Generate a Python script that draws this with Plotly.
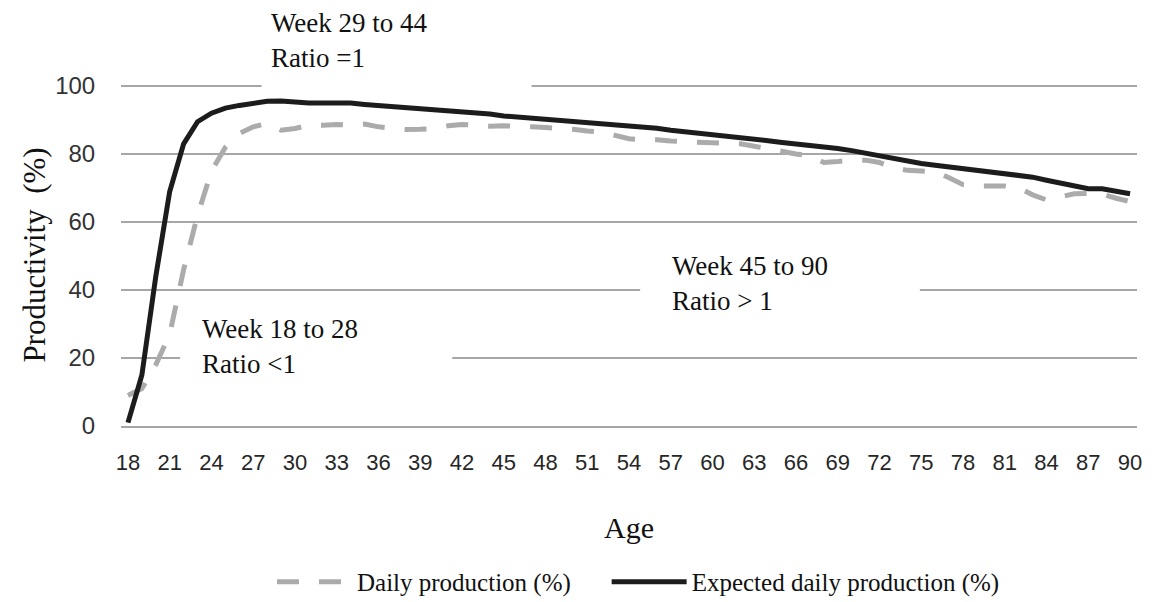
import plotly.graph_objects as go

weeks = list(range(18, 91))

expected = [1, 15, 44, 69, 83, 89.5, 92, 93.5, 94.3, 95, 95.5, 95.6, 95.2, 95, 95, 95,
            95, 94.6, 94.3, 94, 93.6, 93.4, 93.2, 92.8, 92.4, 92, 91.8, 91.2, 90.9, 90.5,
            90.2, 89.9, 89.6, 89.2, 88.8, 88.6, 88.3, 88, 87.6, 87, 86.6, 86.2, 85.6, 85.2,
            84.8, 84.3, 83.9, 83.4, 83, 82.5, 82.1, 81.6, 81, 80.2, 79.4, 78.8, 77.8, 77.2,
            76.7, 76.2, 75.6, 74.9, 74.5, 74, 73.6, 73.2, 72.3, 71.5, 70.6, 69.8, 69.8,
            69.2, 68.3]

daily = [9, 11, 18, 27, 46, 62, 75, 82, 86, 88, 89, 87, 87.5, 88.5, 88.5, 88.7, 88.5,
         88.8, 88, 87.5, 87.2, 87.3, 87.5, 88.3, 88.7, 88.5, 88.2, 88.3, 88.3, 88, 87.8,
         87.7, 87.3, 86.8, 86.5, 85.5, 84.5, 84.2, 84.2, 83.8, 83.6, 83.4, 83.2, 83.1, 83,
         82.3, 81.5, 80.8, 80, 79.5, 77.5, 77.8, 78.2, 78.2, 77.5, 76, 75.2, 75, 74.8, 73,
         71, 70.6, 70.6, 70.6, 70, 68, 66.5, 67.5, 68.3, 68.4, 68.2, 67, 66]

x_ticks = list(range(18, 91, 3))
y_ticks = [0, 20, 40, 60, 80, 100]

# (text, x in weeks, y in %)
notes = [
    ("Week 29 to 44<br>Ratio =1", 28.1, 113.5),
    ("Week 18 to 28<br>Ratio &lt;1", 23.15, 23.4),
    ("Week 45 to 90<br>Ratio &gt; 1", 56.95, 42.0),
]
# gaps in the gridlines behind the text boxes: (x0, x1, gridline value)
gaps = [(27.6, 47.0, 100), (21.75, 41.3, 20), (54.8, 74.9, 40)]

SERIF = "Liberation Serif, Times New Roman, serif"
SANS = "Liberation Sans, Arial, sans-serif"
GRID = "#a6a6a6"
Y_MAX = 100.6

fig = go.Figure()
fig.add_trace(go.Scatter(
    x=weeks, y=daily, mode="lines", name="Daily production (%)", legend="legend",
    line=dict(color="#ababab", width=5, dash="22px,20px"),
))
fig.add_trace(go.Scatter(
    x=weeks, y=expected, mode="lines", name="Expected daily production (%)",
    legend="legend2", line=dict(color="#1c1c1c", width=5),
))

for x0, x1, g in gaps:
    fig.add_shape(type="rect", xref="x", yref="y", x0=x0, x1=x1, y0=g - 1.2,
                  y1=min(g + 1.2, Y_MAX), fillcolor="white", line=dict(width=0),
                  layer="above")

for txt, xv, yv in notes:
    # convert the % value to a paper fraction so labels above the range still show
    fig.add_annotation(text=txt, x=xv, y=yv / Y_MAX, xref="x", yref="paper",
                       xanchor="left", yanchor="middle", align="left", showarrow=False,
                       font=dict(family=SERIF, size=27, color="#111111"))

legend_style = dict(orientation="h", xanchor="left", y=-0.456, yanchor="middle",
                    font=dict(family=SERIF, size=25, color="#111111"), itemwidth=75,
                    bgcolor="rgba(0,0,0,0)")

fig.update_layout(
    width=1152, height=602,
    margin=dict(l=121, r=15, t=84, b=176, autoexpand=False),
    plot_bgcolor="white", paper_bgcolor="white",
    showlegend=True,
    legend=dict(x=0.1486, **legend_style),
    legend2=dict(x=0.478, **legend_style),
)
fig.update_xaxes(
    range=[17.5, 90.5], tickmode="array", tickvals=x_ticks,
    ticktext=[str(v) for v in x_ticks], automargin=False,
    showgrid=False, zeroline=False, showline=True, linecolor=GRID, linewidth=1.5,
    ticks="outside", ticklen=16, tickcolor="rgba(0,0,0,0)",
    tickfont=dict(family=SANS, size=22, color="#262626"),
    title=dict(text="Age", font=dict(family=SERIF, size=30, color="#111111"), standoff=43),
)
fig.update_yaxes(
    range=[0, Y_MAX], tickmode="array", tickvals=y_ticks, automargin=False,
    showgrid=True, gridcolor=GRID, gridwidth=1.5, zeroline=False,
    ticks="outside", ticklen=20, tickcolor="rgba(0,0,0,0)",
    tickfont=dict(family=SANS, size=24, color="#333333"),
    title=dict(text="Productivity  (%)", font=dict(family=SERIF, size=31, color="#111111"),
               standoff=0),
)

fig.write_html("out.html", config={"displayModeBar": False},
               post_script="document.body.style.margin='0px';")
